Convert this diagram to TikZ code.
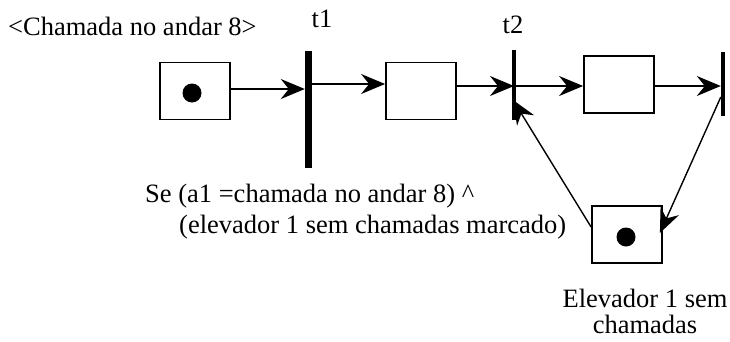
\documentclass[tikz,border=0pt]{standalone}
\usepackage{fontspec}
\setmainfont{Liberation Serif}
\usetikzlibrary{arrows.meta}
\begin{document}
\begin{tikzpicture}[x=1pt,y=-1pt,
  place/.style={draw, line width=1.8pt, minimum width=70pt, minimum height=57pt, inner sep=0pt},
  token/.style={circle, fill=black, minimum size=19pt, inner sep=0pt},
  bar/.style={fill=black, inner sep=0pt},
  arr/.style={line width=1.4pt, -{Stealth[length=24pt,width=20pt,inset=8pt]}},
  lbl/.style={inner sep=0pt, font=\fontsize{26.5}{30}\selectfont}]
\useasboundingbox (0,0) rectangle (730,341);
% places
\node[place] (p1) at (195,91) {};
\node[place] (p2) at (421,91) {};
\node[place] (p3) at (619,84.5) {};
\node[place] (p4) at (627,234.5) {};
\node[token] (k1) at (192,93) {};
\node[token] (k4) at (626,237) {};
% transitions
\node[bar, minimum width=7pt, minimum height=117pt] (t1) at (308.5,109.5) {};
\node[bar, minimum width=4pt, minimum height=70pt] (t2) at (514,85) {};
\node[bar, minimum width=4pt, minimum height=64pt] (t3) at (723,84) {};
% arcs
\draw[arr] (p1.east |- 0,89) -- (t1.west |- 0,89);
\draw[arr] (t1.east |- 0,84) -- (p2.west |- 0,84);
\draw[arr] (p2.east |- 0,86) -- (t2.center |- 0,86);
\draw[arr] (t2.east |- 0,86) -- (p3.west |- 0,86);
\draw[arr] (p3.east |- 0,86) -- (t3.west |- 0,86);
\draw[arr] (t3.west |- 0,97) -- ([xshift=-3pt]p4.east |- 0,233);
\draw[arr] (p4.west |- 0,227) -- ([xshift=-1pt]t2.center |- 0,100);
% labels
\node[lbl, anchor=base west] (call) at (8,35) {<Chamada no andar 8>};
\node[lbl, anchor=base] (lt1) at (322,27) {t1};
\node[lbl, anchor=base] (lt2) at (513,33) {t2};
\node[lbl, anchor=base west] (cond1) at (145,202) {Se (a1 =chamada no andar 8) \^{}};
\node[lbl, anchor=base west] (cond2) at (179,233) {(elevador 1 sem chamadas marcado)};
\node[lbl, anchor=base] (el1) at (645,307) {Elevador 1 sem};
\node[lbl, anchor=base] (el2) at (645,333) {chamadas};
\end{tikzpicture}
\end{document}
